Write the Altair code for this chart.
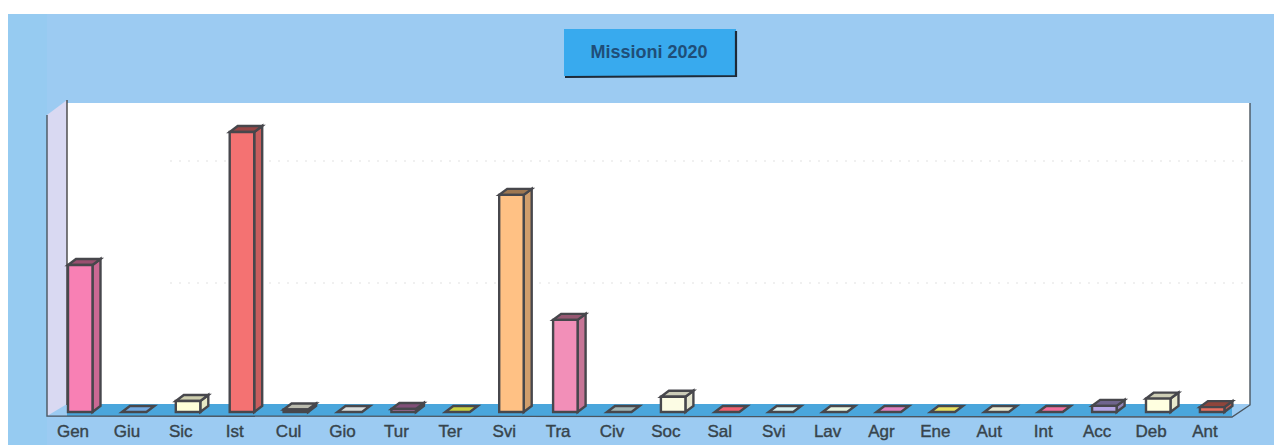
import altair as alt
import pandas as pd

names = ["Gen","Giu","Sic","Ist","Cul","Gio","Tur","Ter","Svi","Tra","Civ","Soc","Sal","Svi","Lav","Agr","Ene","Aut","Int","Acc","Deb","Ant"]
values = [24.1,0,1.8,45.9,0.4,0,0.5,0,35.6,15.1,0,2.5,0,0,0,0,0,0,0,1.0,2.2,0.8]
colors = ["#F880B4","#72A8E0","#FFFFD8","#F47272","#E8E8D8","#D8DCDC","#D080C0","#C8D040","#FFC184","#F28FB8","#A0B4B4","#FCFCE4","#F06070","#D8F0F0","#E8F4E0","#E080C0","#E8E060","#E8E8D0","#F070A0","#B4A4E4","#FFFFE0","#E87060"]
wall_ticks = [20, 40]
title = "Missioni 2020"

W, H = 1266, 437
STEP, X0 = 53.9, 68.0       # page px per category, first bar
PXV, Y0 = 6.1, 412.0        # page px per value, zero line
BW, DX, DY = 24.5, 8.0, 6.0

def X(px): return (px - X0) / STEP
def Y(py): return (Y0 - py) / PXV

xs = alt.Scale(domain=[X(8), X(8 + W)], nice=False, zero=False)
ys = alt.Scale(domain=[Y(8 + H), Y(8)], nice=False, zero=False)
xe = lambda f="x": alt.X(f"{f}:Q", scale=xs, axis=None)
ye = lambda f="y": alt.Y(f"{f}:Q", scale=ys, axis=None)

def rect(x1, y1, x2, y2, color, **kw):
    d = pd.DataFrame([{"x": X(x1), "x2": X(x2), "y": Y(y1), "y2": Y(y2)}])
    return alt.Chart(d).mark_rect(color=color, **kw).encode(
        x=xe(), x2="x2:Q", y=ye(), y2="y2:Q")

def seg(pts, color, width=1.5, dash=None, opacity=1):
    d = pd.DataFrame([{"x": X(a), "y": Y(b), "o": i} for i, (a, b) in enumerate(pts)])
    kw = {"strokeDash": dash} if dash else {}
    return alt.Chart(d).mark_line(color=color, strokeWidth=width, opacity=opacity, **kw).encode(
        x=xe(), y=ye(), order="o:Q")

def vface(x1, x2, yb1, yt1, yb2, yt2, color):
    d = pd.DataFrame([
        {"x": X(x1), "y": Y(yt1), "y2": Y(yb1)},
        {"x": X(x2), "y": Y(yt2), "y2": Y(yb2)},
    ])
    return alt.Chart(d).mark_area(color=color, orient="vertical").encode(
        x=xe(), y=ye(), y2="y2:Q")

def darken(c, f):
    r, g, b = (int(c[i:i+2], 16) for i in (1, 3, 5))
    if min(r, g, b) > 195:      # pale boxes stay pale on every face
        f = 0.5 + f / 2
    return "#%02x%02x%02x" % (int(r*f), int(g*f), int(b*f))

layers = [
    rect(7, 14, 1282, 445, "#9CCBF2"),
    rect(7, 14, 47, 445, "#96CBF1"),
    rect(67, 103, 1250, 404, "#FFFFFF"),
    vface(47, 67, 416, 115, 404, 100, "#D9D9F2"),
    vface(47, 67, 416, 416, 404, 404, "#4AA6DC"),
    rect(67, 404, 1232, 416, "#4AA6DC"),
    vface(1232, 1250, 416, 416, 404, 404, "#4AA6DC"),
]
for t in wall_ticks:
    py = 405 - t * PXV
    layers.append(seg([(170, py), (1250, py)], "#BBBBBB", 1, [2, 7], 0.45))
layers += [
    seg([(47, 115), (47, 416), (1232, 417), (1250, 405), (1250, 103)], "#4A5560", 1.4),
    seg([(67, 100), (67, 405)], "#444444", 1.4),
]

front, side, top = [], [], []
for i, (n, v, c) in enumerate(zip(names, values, colors)):
    xl = i
    xr = i + BW / STEP
    dx = DX / STEP
    dy = DY / PXV
    if v > 0:
        front.append({"k": i, "x": xl, "x2": xr, "y": v, "y2": 0, "c": c})
        side.append({"k": i, "x": xr, "y": v, "y2": 0, "c": darken(c, 0.82)})
        side.append({"k": i, "x": xr + dx, "y": v + dy, "y2": dy, "c": darken(c, 0.82)})
    tc = darken(c, 0.62) if v > 0 else c
    top.append({"k": i, "x": xl, "x2": xr, "y": v, "c": tc})
    top.append({"k": i, "x": xl + dx, "x2": xr + dx, "y": v + dy, "c": tc})

stroke = dict(stroke="#47474C", strokeWidth=2.4)
layers.append(alt.Chart(pd.DataFrame(side)).mark_area(orient="vertical", **stroke).encode(
    x=xe(), y=ye(), y2="y2:Q", detail="k:N", color=alt.Color("c:N", scale=None)))
layers.append(alt.Chart(pd.DataFrame(top)).mark_area(orient="horizontal", **stroke).encode(
    y=ye(), x=xe(), x2="x2:Q", detail="k:N", color=alt.Color("c:N", scale=None)))
layers.append(alt.Chart(pd.DataFrame(front)).mark_rect(**stroke).encode(
    x=xe(), x2="x2:Q", y=ye(), y2="y2:Q", color=alt.Color("c:N", scale=None)))

labels = pd.DataFrame({"x": [X(73 + 53.9 * i) for i in range(len(names))], "y": [Y(432)] * len(names), "t": names})
layers.append(alt.Chart(labels).mark_text(font="Liberation Sans", fontSize=17, color="#37444C", stroke="#37444C", strokeWidth=0.4, baseline="middle").encode(
    x=xe(), y=ye(), text="t:N"))

layers += [
    rect(564, 29, 736, 76, "#38AAEE"),
    seg([(736, 31), (736, 76), (565, 77)], "#1E2A38", 2.2),
]
layers.append(alt.Chart(pd.DataFrame({"x": [X(649)], "y": [Y(52.5)], "t": [title]})).mark_text(
    font="Liberation Sans", fontSize=18, fontWeight="bold", color="#1F4E78", baseline="middle").encode(
    x=xe(), y=ye(), text="t:N"))

chart = alt.layer(*layers).properties(
    width=W, height=H, padding=0, autosize="none", background="#FFFFFF"
).configure_view(stroke=None)
chart.save("out.html", embed_options={"renderer": "svg", "actions": False})
